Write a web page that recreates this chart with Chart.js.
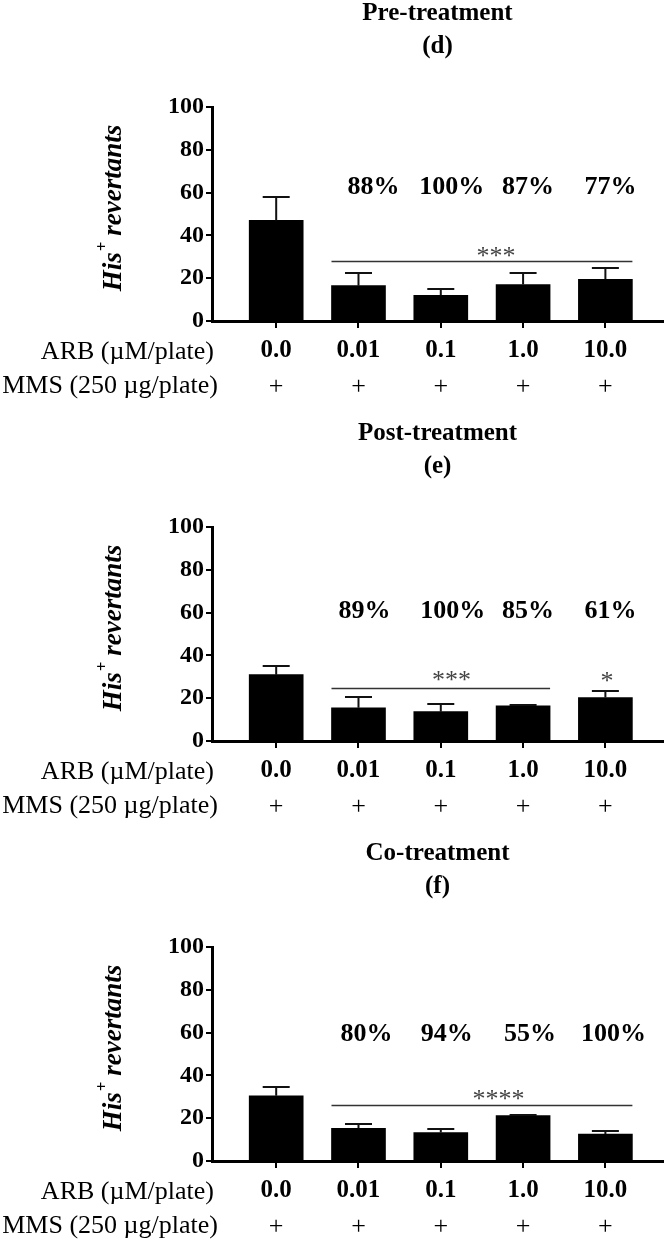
<!DOCTYPE html>
<html>
<head>
<meta charset="utf-8">
<script src="https://cdn.jsdelivr.net/npm/chart.js@4.4.0/dist/chart.umd.min.js"></script>
<style>
  html, body { margin: 0; padding: 0; background: #fff; }
  #wrap { position: relative; width: 665px; height: 1243px; }
  .panel { position: absolute; left: 0; width: 665px; height: 403px; }
</style>
</head>
<body>
<div id="wrap">
  <div class="panel" style="top:0px"><canvas id="c1"></canvas></div>
  <div class="panel" style="top:420px"><canvas id="c2"></canvas></div>
  <div class="panel" style="top:840px"><canvas id="c3"></canvas></div>
</div>
<script>
// dosis de ARB y fila de MMS
const arbDoses = ['0.0', '0.01', '0.1', '1.0', '10.0'];
const mmsSigns = ['+', '+', '+', '+', '+'];

// medias y error (solo barra superior)
const preMeans = [47, 16.5, 12, 17, 19.5];
const preErr = [11, 6, 2.8, 5.2, 5.1];
const postMeans = [31, 15.5, 13.7, 16.4, 20.3];
const postErr = [4, 4.9, 3.6, 0.6, 3.1];
const coMeans = [30.5, 15.3, 13.3, 21.2, 12.6];
const coErr = [4.1, 1.8, 1.5, 0.5, 1.4];

// porcentajes de inhibicion (categorias 1..4)
const prePct = ['88%', '100%', '87%', '77%'];
const postPct = ['89%', '100%', '85%', '61%'];
const coPct = ['80%', '94%', '55%', '100%'];

const SERIF = '"Liberation Serif", "Times New Roman", serif';

function makeDecor(cfg) {
  return {
    id: 'decor',
    afterDatasetsDraw(chart) {
      const ctx = chart.ctx;
      const xs = chart.scales.x, ys = chart.scales.y;
      const ca = chart.chartArea;
      const bars = chart.getDatasetMeta(0).data;
      ctx.save();

      // barras de error
      ctx.strokeStyle = '#111';
      ctx.lineWidth = 2;
      cfg.errs.forEach((e, i) => {
        const b = bars[i];
        const yTop = Math.round(ys.getPixelForValue(cfg.means[i] + e));
        ctx.beginPath();
        ctx.moveTo(b.x, b.y);
        ctx.lineTo(b.x, yTop);
        ctx.moveTo(b.x - 13.5, yTop);
        ctx.lineTo(b.x + 13.5, yTop);
        ctx.stroke();
      });

      // titulo
      const cx = (ca.left + ca.right) / 2;
      ctx.fillStyle = '#000';
      ctx.textAlign = 'center';
      ctx.textBaseline = 'middle';
      ctx.font = 'bold 25px ' + SERIF;
      ctx.fillText(cfg.title, cx, 14);
      ctx.fillText(cfg.letter, cx, 47);

      // porcentajes
      ctx.font = 'bold 26px ' + SERIF;
      cfg.pct.forEach((p, i) => {
        const x = xs.getPixelForValue(i + 1) + cfg.pctShift[i];
        ctx.fillText(p, x, ys.getPixelForValue(cfg.pctY));
      });

      // fila MMS y etiquetas de la izquierda
      ctx.font = '26px ' + SERIF;
      mmsSigns.forEach((s, i) => {
        ctx.fillText(s, xs.getPixelForValue(i), 387);
      });
      ctx.textAlign = 'right';
      ctx.fillText('ARB (\u00b5M/plate)', 214, 352);
      ctx.fillText('MMS (250 \u00b5g/plate)', 218, 386);

      // linea de significancia
      ctx.strokeStyle = '#333';
      ctx.lineWidth = 1.5;
      const b0 = bars[cfg.sigFrom], b1 = bars[cfg.sigTo];
      const ly = Math.round(ys.getPixelForValue(cfg.sigY)) + 0.5;
      ctx.beginPath();
      ctx.moveTo(b0.x - b0.width / 2, ly);
      ctx.lineTo(b1.x + b1.width / 2, ly);
      ctx.stroke();

      ctx.fillStyle = '#444';
      ctx.textAlign = 'center';
      ctx.font = '26px ' + SERIF;
      cfg.stars.forEach(s => {
        ctx.fillText(s.text, xs.getPixelForValue(s.x), ys.getPixelForValue(s.y) + 5);
      });

      // titulo eje Y con superindice
      ctx.fillStyle = '#000';
      ctx.translate(114, 208);
      ctx.rotate(-Math.PI / 2);
      ctx.textAlign = 'left';
      const f1 = 'italic bold 27px ' + SERIF, f2 = 'bold 17px ' + SERIF;
      ctx.font = f1;
      const w1 = ctx.measureText('His').width;
      const w3 = ctx.measureText(' revertants').width;
      ctx.font = f2;
      const w2 = ctx.measureText('+').width;
      const x0 = -(w1 + w2 + w3) / 2;
      ctx.font = f1;
      ctx.fillText('His', x0, 0);
      ctx.font = f2;
      ctx.fillText('+', x0 + w1 + 1, -11);
      ctx.font = f1;
      ctx.fillText(' revertants', x0 + w1 + w2, 0);

      ctx.restore();
    }
  };
}

function makePanel(id, cfg) {
  const ctx = document.getElementById(id).getContext('2d');
  new Chart(ctx, {
    type: 'bar',
    data: {
      datasets: [{
        data: cfg.means.map((v, i) => ({ x: i, y: v })),
        backgroundColor: '#000',
        borderWidth: 0,
        barThickness: 54
      }]
    },
    options: {
      responsive: true,
      maintainAspectRatio: false,
      animation: false,
      layout: { padding: { top: 107, right: 2, left: 0, bottom: 0 } },
      plugins: { legend: { display: false }, tooltip: { enabled: false } },
      scales: {
        x: {
          type: 'linear',
          offset: false,
          min: -0.78,
          max: 4.7,
          afterBuildTicks: s => { s.ticks = arbDoses.map((_, i) => ({ value: i })); },
          afterFit: s => { s.height = 82; },
          ticks: {
            callback: (v, i) => arbDoses[i],
            font: { family: SERIF, size: 25, weight: 'bold' },
            color: '#000',
            padding: 8,
            maxRotation: 0,
            autoSkip: false
          },
          grid: { offset: false, drawOnChartArea: false, tickLength: 7, color: '#000', lineWidth: 2 },
          border: { color: '#000', width: 3 }
        },
        y: {
          min: 0,
          max: 100,
          afterFit: s => { s.width = 212; },
          ticks: {
            stepSize: 20,
            font: { family: SERIF, size: 24, weight: 'bold' },
            color: '#000',
            padding: 2
          },
          grid: { drawOnChartArea: false, tickLength: 6, color: '#000', lineWidth: 2 },
          border: { color: '#000', width: 3 }
        }
      }
    },
    plugins: [makeDecor(cfg)]
  });
}

makePanel('c1', {
  title: 'Pre-treatment', letter: '(d)',
  means: preMeans, errs: preErr,
  pct: prePct, pctShift: [15, 11, 5, 5], pctY: 62.5,
  sigFrom: 1, sigTo: 4, sigY: 28,
  stars: [{ text: '***', x: 2.67, y: 32.2 }]
});
makePanel('c2', {
  title: 'Post-treatment', letter: '(e)',
  means: postMeans, errs: postErr,
  pct: postPct, pctShift: [6, 12, 5, 5], pctY: 60.5,
  sigFrom: 1, sigTo: 3, sigY: 25,
  stars: [{ text: '***', x: 2.13, y: 30.3 }, { text: '*', x: 4.02, y: 30 }]
});
makePanel('c3', {
  title: 'Co-treatment', letter: '(f)',
  means: coMeans, errs: coErr,
  pct: coPct, pctShift: [8, 6, 7, 8], pctY: 59.2,
  sigFrom: 1, sigTo: 4, sigY: 26.2,
  stars: [{ text: '****', x: 2.7, y: 30.7 }]
});
</script>
</body>
</html>
